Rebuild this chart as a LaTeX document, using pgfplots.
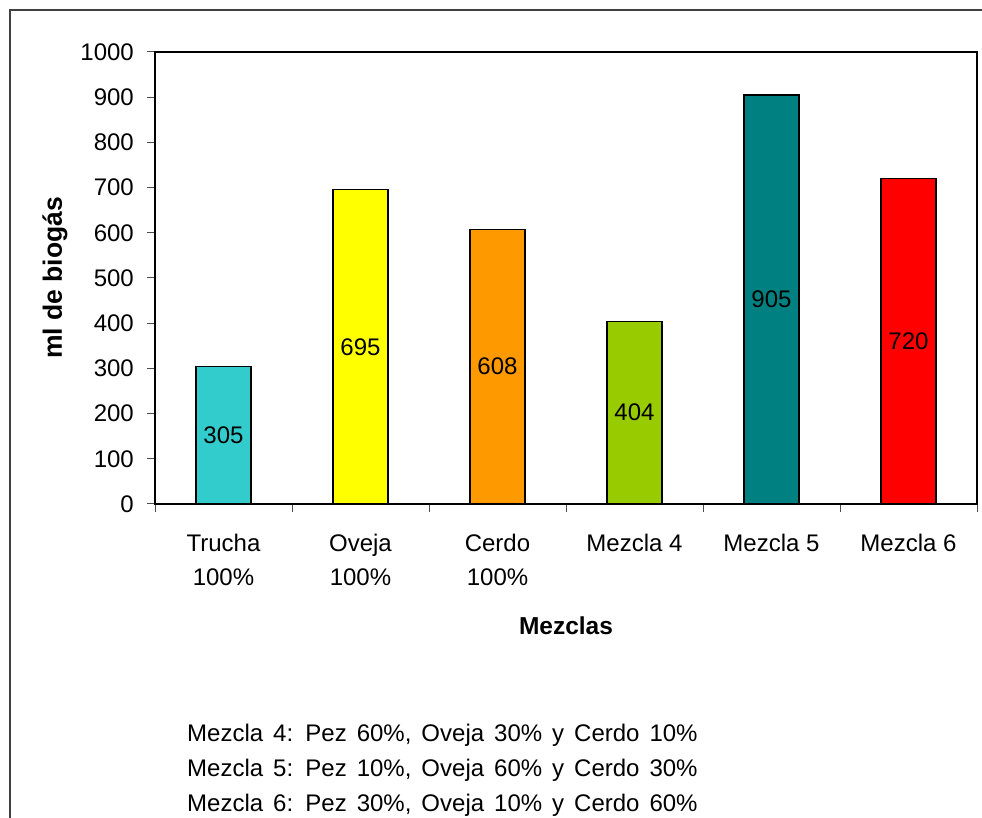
\documentclass[border=0pt]{standalone}
\usepackage{fontspec}
\setmainfont{Liberation Sans}
\usepackage{pgfplots}
\pgfplotsset{compat=1.18}

\definecolor{cTrucha}{HTML}{33CCCC}
\definecolor{cOveja}{HTML}{FFFF00}
\definecolor{cCerdo}{HTML}{FF9900}
\definecolor{cMezA}{HTML}{99CC00}
\definecolor{cMezB}{HTML}{008080}
\definecolor{cMezC}{HTML}{FF0000}

% wider word spacing for the notes under the chart
\newcommand\widespace{\spaceskip=10pt plus 2pt minus 1pt\relax}

% value printed in the middle of its bar
\pgfplotsset{
  midlabel/.style={
    bar shift=0pt,
    draw=black, line width=1.2pt, fill=#1,
    nodes near coords,
    visualization depends on=rawy \as \rawy,
    every node near coord/.append style={anchor=center, yshift={-0.226*\rawy}, text=black},
  },
}

\begin{document}
\fontsize{24}{34}\selectfont
\begin{tikzpicture}
\useasboundingbox (0,0) rectangle (982pt,818pt);
% outer chart frame
\draw[line width=1.5pt, black!75] (10pt,0pt) -- (10pt,808pt) -- (982pt,808pt);

\begin{axis}[
  at={(155pt,314pt)}, anchor=south west,
  scale only axis, width=822pt, height=452pt,
  ybar, bar width=55pt,
  xmin=-0.5, xmax=5.5, ymin=0, ymax=1000,
  ytick={0,100,...,1000},
  xtick={-0.5,0.5,1.5,2.5,3.5,4.5,5.5}, xticklabels={},
  extra x ticks={0,1,2,3,4,5},
  extra x tick labels={Trucha\\100\%, Oveja\\100\%, Cerdo\\100\%, Mezcla 4, Mezcla 5, Mezcla 6},
  extra x tick style={major tick length=0pt},
  tick align=outside, tick pos=left, major tick length=8pt,
  tick style={line width=1pt, black!70},
  axis line style={line width=1.5pt},
  /pgf/number format/assume math mode=true,
  /pgf/number format/1000 sep={},
  xticklabel style={align=center, yshift=-22pt},
  yticklabel style={xshift=-5pt},
  every axis y label/.style={at={(axis description cs:-0.1217,0.5)}, rotate=90, anchor=center,
    font=\fontsize{26.5}{30}\selectfont\bfseries},
  every axis x label/.style={at={(axis description cs:0.5,-0.27)}, anchor=center,
    font=\fontsize{24.5}{30}\selectfont\bfseries},
  ylabel={ml de biogás},
  xlabel={Mezclas},
]
\addplot[midlabel=cTrucha] coordinates {(0,305)};
\addplot[midlabel=cOveja]  coordinates {(1,695)};
\addplot[midlabel=cCerdo]  coordinates {(2,608)};
\addplot[midlabel=cMezA]   coordinates {(3,404)};
\addplot[midlabel=cMezB]   coordinates {(4,905)};
\addplot[midlabel=cMezC]   coordinates {(5,720)};
\end{axis}

% composition of the mixtures
\begin{scope}[every node/.style={anchor=base west, inner sep=0pt, font=\widespace}]
\node at (187pt,76pt) {Mezcla 4: Pez 60\%, Oveja 30\% y Cerdo 10\%};
\node at (187pt,41pt) {Mezcla 5: Pez 10\%, Oveja 60\% y Cerdo 30\%};
\node at (187pt,6pt) {Mezcla 6: Pez 30\%, Oveja 10\% y Cerdo 60\%};
\end{scope}
\end{tikzpicture}
\end{document}
